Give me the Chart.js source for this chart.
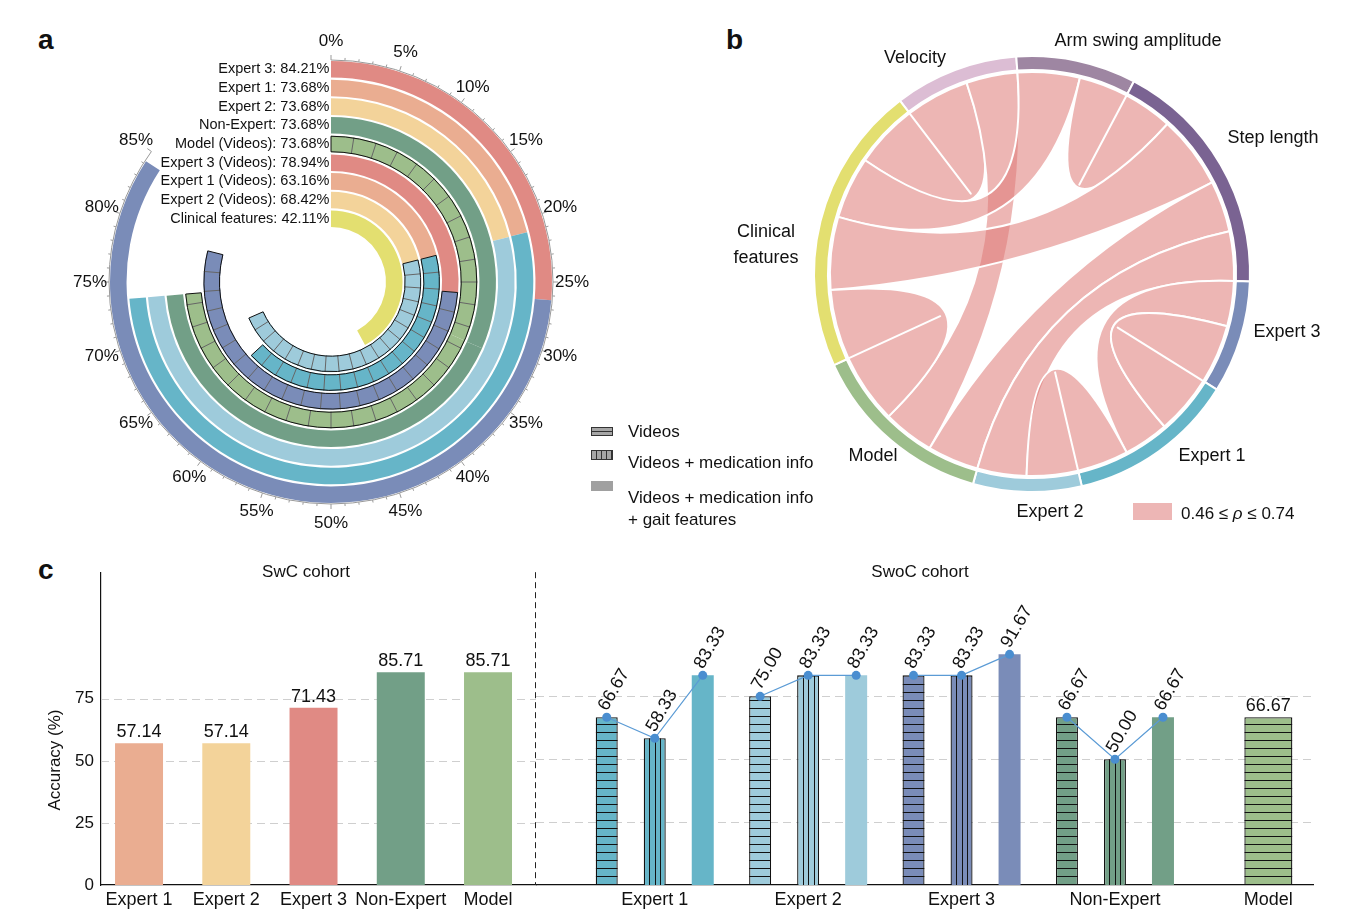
<!DOCTYPE html>
<html lang="en">
<head>
<meta charset="UTF-8">
<title>Accuracy of experts and model</title>
<script src="https://cdn.jsdelivr.net/npm/chart.js"></script>
<style>
  html, body { margin: 0; padding: 0; background: #fff; }
  body { position: relative; width: 1354px; height: 918px; overflow: hidden;
         font-family: "Liberation Sans", Arial, Helvetica, sans-serif; color: #111; }
  canvas { position: absolute; }
  .tag { position: absolute; font-size: 28px; font-weight: bold; line-height: 28px; }
  .txt { position: absolute; font-size: 17px; line-height: 20px; white-space: nowrap; z-index: 3; }
  .box { position: absolute; box-sizing: border-box; z-index: 3; }
</style>
</head>
<body>
<div class="tag" style="left:38px;top:26px">a</div>
<div class="tag" style="left:726px;top:26px">b</div>
<div class="tag" style="left:38px;top:556px">c</div>

<canvas id="chartA" width="560" height="560" style="left:51px;top:2px"></canvas>
<canvas id="chartB" width="654" height="548" style="left:700px;top:0px"></canvas>
<canvas id="chartC1" width="510" height="363" style="left:30px;top:555px"></canvas>
<canvas id="chartC2" width="818" height="363" style="left:536px;top:555px"></canvas>

<!-- legend shared by a and c -->
<div class="box" style="left:591px;top:427px;width:22px;height:9px;border:1px solid #333;
     background:linear-gradient(#a6a6a6 0 40%, #333 40% 62%, #a6a6a6 62%)"></div>
<div class="box" style="left:591px;top:450px;width:22px;height:10px;border:1px solid #333;
     background:repeating-linear-gradient(90deg, #a6a6a6 0 4px, #333 4px 5px)"></div>
<div class="box" style="left:591px;top:481px;width:22px;height:10px;background:#a0a0a0"></div>
<div class="txt" style="left:628px;top:422px">Videos</div>
<div class="txt" style="left:628px;top:453px">Videos + medication info</div>
<div class="txt" style="left:628px;top:488px">Videos + medication info</div>
<div class="txt" style="left:628px;top:510px">+ gait features</div>

<div class="txt" style="left:206px;top:562px;width:200px;text-align:center">SwC cohort</div>
<div class="txt" style="left:820px;top:562px;width:200px;text-align:center">SwoC cohort</div>
<div class="txt" style="left:-45px;top:750px;width:200px;text-align:center;transform:rotate(-90deg)">Accuracy (%)</div>

<script>
// ---- panel a: overall accuracy rings (outer to inner)
const ringLabels = ['Expert 3', 'Expert 1', 'Expert 2', 'Non-Expert', 'Model (Videos)',
                    'Expert 3 (Videos)', 'Expert 1 (Videos)', 'Expert 2 (Videos)', 'Clinical features'];
const ringAccuracy = [84.21, 73.68, 73.68, 73.68, 73.68, 78.94, 63.16, 68.42, 42.11];
// share of the ring coming from the SwC cohort (first coloured segment)
const ringSwcShare = [26.32, 21.05, 21.05, 31.58, 31.58, 26.32, 21.05, 21.05, 42.11];
const axisTicksA = [0, 5, 10, 15, 20, 25, 30, 35, 40, 45, 50, 55, 60, 65, 70, 75, 80, 85];

// ---- panel b: correlation chord diagram
const chordGroups = ['Velocity', 'Arm swing amplitude', 'Step length', 'Expert 3',
                     'Expert 1', 'Expert 2', 'Model', 'Clinical features'];
const linkFrom = ['Clinical features', 'Velocity', 'Arm swing amplitude', 'Arm swing amplitude',
                  'Step length', 'Step length', 'Step length', 'Expert 3', 'Expert 3', 'Expert 1', 'Model'];
const linkTo = ['Velocity', 'Model', 'Clinical features', 'Step length',
                'Clinical features', 'Model', 'Expert 2', 'Expert 1', 'Expert 1', 'Expert 2', 'Clinical features'];
const linkRho = [0.65, 0.52, 0.63, 0.50, 0.74, 0.52, 0.50, 0.46, 0.60, 0.52, 0.71];

// ---- panel c: accuracy per cohort
const swcLabels = ['Expert 1', 'Expert 2', 'Expert 3', 'Non-Expert', 'Model'];
const swcAccuracy = [57.14, 57.14, 71.43, 85.71, 85.71];
const swocLabels = ['Expert 1', 'Expert 2', 'Expert 3', 'Non-Expert', 'Model'];
const swocVideos = [66.67, 75.00, 83.33, 66.67, 66.67];
const swocVideosMed = [58.33, 83.33, 83.33, 50.00, null];
const swocVideosMedGait = [83.33, 83.33, 91.67, 66.67, null];
const yTicksC = [0, 25, 50, 75];

// ---- styles
const RED = '#e08a84', SALMON = '#eaad91', ORANGE = '#f3d39a', DKGREEN = '#729f87', LTGREEN = '#9dbe8b',
      PURPLE = '#7a8cb8', TEAL = '#66b5c8', LTBLUE = '#9ecbdb', YELLOW = '#e3df70';
const ringStyle = [
  { c1: RED, c2: PURPLE }, { c1: SALMON, c2: TEAL }, { c1: ORANGE, c2: LTBLUE },
  { c1: DKGREEN, c2: DKGREEN }, { c1: LTGREEN, c2: LTGREEN, cells: 'all' },
  { c1: RED, c2: PURPLE, cells: 'swoc' }, { c1: SALMON, c2: TEAL, cells: 'swoc' },
  { c1: ORANGE, c2: LTBLUE, cells: 'swoc' }, { c1: YELLOW, c2: YELLOW }
];
const groupColors = ['#dcbdd4', '#9e86a2', '#7a6392', PURPLE, TEAL, LTBLUE, LTGREEN, YELLOW];
const chordLabelPlace = {
  'Velocity': { dx: -117, dy: -216, lines: ['Velocity'] },
  'Arm swing amplitude': { dx: 106, dy: -233, lines: ['Arm swing amplitude'] },
  'Step length': { dx: 241, dy: -136, lines: ['Step length'] },
  'Expert 3': { dx: 255, dy: 58, lines: ['Expert 3'] },
  'Expert 1': { dx: 180, dy: 182, lines: ['Expert 1'] },
  'Expert 2': { dx: 18, dy: 238, lines: ['Expert 2'] },
  'Model': { dx: -159, dy: 182, lines: ['Model'] },
  'Clinical features': { dx: -266, dy: -29, lines: ['Clinical', 'features'] }
};
const swcColors = [SALMON, ORANGE, RED, DKGREEN, LTGREEN];
const swocColors = [TEAL, LTBLUE, PURPLE, DKGREEN, LTGREEN];
const FONT = '"Liberation Sans", Arial, Helvetica, sans-serif';
const cellStep = Math.PI * 2 / 40;

Chart.defaults.font.family = FONT;
Chart.defaults.color = '#111';
Chart.defaults.animation = false;

// ================= panel a =================
const ringDatasets = [];
ringLabels.forEach((name, i) => {
  if (i > 0) {
    ringDatasets.push({ data: [100], backgroundColor: ['rgba(0,0,0,0)'], borderWidth: 0, weight: 0.13, spacer: true });
  }
  const swc = Math.min(ringSwcShare[i], ringAccuracy[i]);
  ringDatasets.push({
    label: name,
    ring: i,
    data: [swc, ringAccuracy[i] - swc, 100 - ringAccuracy[i]],
    backgroundColor: [ringStyle[i].c1, ringStyle[i].c2, 'rgba(0,0,0,0)'],
    borderWidth: 0,
    weight: 1
  });
});

const ringDecor = {
  id: 'ringDecor',
  afterDatasetsDraw(chart) {
    const ctx = chart.ctx;
    ctx.save();
    chart.data.datasets.forEach((ds, di) => {
      if (ds.spacer) return;
      const arcs = chart.getDatasetMeta(di).data;
      const { x, y, innerRadius: ri, outerRadius: ro } = arcs[0];
      const st = ringStyle[ds.ring];
      if (st.cells) {
        const a0 = st.cells === 'all' ? arcs[0].startAngle : arcs[1].startAngle;
        const a1 = arcs[1].endAngle;
        ctx.strokeStyle = '#666';
        ctx.lineWidth = 1;
        ctx.beginPath();
        for (let a = a0 + cellStep; a < a1 - 0.02; a += cellStep) {
          ctx.moveTo(x + ri * Math.cos(a), y + ri * Math.sin(a));
          ctx.lineTo(x + ro * Math.cos(a), y + ro * Math.sin(a));
        }
        ctx.stroke();
        ctx.strokeStyle = '#111';
        ctx.beginPath();
        ctx.arc(x, y, ro - 0.5, a0, a1);
        ctx.arc(x, y, ri + 0.5, a1, a0, true);
        ctx.closePath();
        ctx.stroke();
      }
      ctx.fillStyle = '#111';
      ctx.font = '14.5px ' + FONT;
      ctx.textAlign = 'right';
      ctx.textBaseline = 'middle';
      ctx.fillText(`${ringLabels[ds.ring]}: ${ringAccuracy[ds.ring].toFixed(2)}%`, x - 1.5, y - (ri + ro) / 2);
    });

    // percentage axis around the outer ring
    const outer = chart.getDatasetMeta(0).data[0];
    const cx = outer.x, cy = outer.y, R = outer.outerRadius + 1;
    const maxTick = axisTicksA[axisTicksA.length - 1];
    const ang = p => -Math.PI / 2 + Math.PI * 2 * p / 100;
    ctx.strokeStyle = '#999';
    ctx.lineWidth = 1;
    ctx.beginPath();
    ctx.arc(cx, cy, R, ang(0), ang(maxTick));
    for (let p = 0; p <= maxTick; p++) {
      const len = p % 5 === 0 ? 5 : 2.5;
      const a = ang(p);
      ctx.moveTo(cx + R * Math.cos(a), cy + R * Math.sin(a));
      ctx.lineTo(cx + (R + len) * Math.cos(a), cy + (R + len) * Math.sin(a));
    }
    ctx.stroke();
    ctx.fillStyle = '#111';
    ctx.font = '17px ' + FONT;
    ctx.textAlign = 'center';
    ctx.textBaseline = 'middle';
    axisTicksA.forEach(v => {
      const a = ang(v);
      ctx.fillText(v + '%', cx + (R + 19) * Math.cos(a), cy + (R + 19) * Math.sin(a));
    });
    ctx.restore();
  }
};

new Chart(document.getElementById('chartA'), {
  type: 'doughnut',
  data: { datasets: ringDatasets },
  options: {
    responsive: false,
    events: [],
    cutout: 55,
    layout: { padding: 59 },
    plugins: { legend: { display: false }, tooltip: { enabled: false } }
  },
  plugins: [ringDecor]
});

// ================= panel b =================
const groupTotals = chordGroups.map(g =>
  linkRho.reduce((s, r, k) => s + ((linkFrom[k] === g ? 1 : 0) + (linkTo[k] === g ? 1 : 0)) * r, 0));

const chordDecor = {
  id: 'chordDecor',
  afterDatasetsDraw(chart) {
    const ctx = chart.ctx;
    const meta = chart.getDatasetMeta(0);
    const n = chordGroups.length;
    const ends = chordGroups.map(() => []);
    linkRho.forEach((rho, k) => {
      const a = chordGroups.indexOf(linkFrom[k]), b = chordGroups.indexOf(linkTo[k]);
      ends[a].push({ k, partner: b, rho });
      ends[b].push({ k, partner: a, rho });
    });
    const pos = {};
    ends.forEach((list, g) => {
      list.sort((p, q) => {
        const dp = (p.partner - g + n) % n, dq = (q.partner - g + n) % n;
        if (dp !== dq) return dq - dp;
        return g < p.partner ? p.k - q.k : q.k - p.k;
      });
      const arc = meta.data[g];
      const span = arc.endAngle - arc.startAngle;
      let a = arc.startAngle;
      list.forEach(e => {
        const w = span * e.rho / groupTotals[g];
        (pos[e.k] = pos[e.k] || []).push([a, a + w]);
        a += w;
      });
    });
    const first = meta.data[0];
    const cx = first.x, cy = first.y, r = first.innerRadius - 2;
    const pt = a => [cx + r * Math.cos(a), cy + r * Math.sin(a)];
    ctx.save();
    ctx.fillStyle = 'rgba(223,124,122,0.56)';
    ctx.strokeStyle = '#fff';
    ctx.lineWidth = 2;
    ctx.lineJoin = 'round';
    linkRho.forEach((rho, k) => {
      const [[a1, a2], [b1, b2]] = pos[k];
      const p0 = pt(a1), q0 = pt(b1);
      ctx.beginPath();
      ctx.moveTo(p0[0], p0[1]);
      ctx.arc(cx, cy, r, a1, a2);
      ctx.quadraticCurveTo(cx, cy, q0[0], q0[1]);
      ctx.arc(cx, cy, r, b1, b2);
      ctx.quadraticCurveTo(cx, cy, p0[0], p0[1]);
      ctx.closePath();
      ctx.fill();
      ctx.stroke();
    });

    // group labels
    ctx.fillStyle = '#111';
    ctx.font = '18px ' + FONT;
    ctx.textAlign = 'center';
    ctx.textBaseline = 'middle';
    chordGroups.forEach(g => {
      const pl = chordLabelPlace[g];
      pl.lines.forEach((line, li) => {
        ctx.fillText(line, cx + pl.dx, cy + pl.dy + (li - (pl.lines.length - 1) / 2) * 26);
      });
    });

    // legend
    ctx.fillStyle = '#edb6b5';
    ctx.fillRect(cx + 101, cy + 229, 39, 17);
    ctx.fillStyle = '#111';
    ctx.textAlign = 'left';
    ctx.font = '17px ' + FONT;
    let tx = cx + 149;
    const ty = cy + 240;
    const minRho = Math.min(...linkRho).toFixed(2), maxRho = Math.max(...linkRho).toFixed(2);
    ctx.fillText(minRho + ' \u2264 ', tx, ty);
    tx += ctx.measureText(minRho + ' \u2264 ').width;
    ctx.font = 'italic 17px ' + FONT;
    ctx.fillText('\u03C1', tx, ty);
    tx += ctx.measureText('\u03C1').width;
    ctx.font = '17px ' + FONT;
    ctx.fillText(' \u2264 ' + maxRho, tx, ty);
    ctx.restore();
  }
};

new Chart(document.getElementById('chartB'), {
  type: 'doughnut',
  data: {
    labels: chordGroups,
    datasets: [{ data: groupTotals, backgroundColor: groupColors, borderColor: '#fff', borderWidth: 2, hoverOffset: 0 }]
  },
  options: {
    responsive: false,
    events: [],
    rotation: 322.7,
    cutout: '93.6%',
    layout: { padding: { left: 113, right: 103, top: 55, bottom: 55 } },
    plugins: { legend: { display: false }, tooltip: { enabled: false } }
  },
  plugins: [chordDecor]
});

// ================= panel c =================
function makeBarDecor(opts) {
  return {
    id: 'barDecor',
    beforeDatasetsDraw(chart) {
      const { ctx, chartArea: ca, scales: { y } } = chart;
      ctx.save();
      ctx.strokeStyle = '#cfcfcf';
      ctx.lineWidth = 1;
      ctx.setLineDash([8, 5]);
      yTicksC.filter(v => v > 0).forEach(v => {
        const py = Math.round(y.getPixelForValue(v)) + 0.5;
        ctx.beginPath();
        ctx.moveTo(ca.left, py);
        ctx.lineTo(ca.right, py);
        ctx.stroke();
      });
      ctx.restore();
    },
    afterDatasetsDraw(chart) {
      const { ctx, chartArea: ca } = chart;
      ctx.save();
      // hatching
      chart.data.datasets.forEach((ds, di) => {
        if (!ds.hatch) return;
        chart.getDatasetMeta(di).data.forEach((el, i) => {
          if (ds.data[i].y == null) return;
          const { x, y, base, width } = el;
          const l = x - width / 2, r = x + width / 2;
          ctx.save();
          ctx.beginPath();
          ctx.rect(l, y, width, base - y);
          ctx.clip();
          ctx.strokeStyle = '#111';
          ctx.lineWidth = 1;
          ctx.beginPath();
          if (ds.hatch === 'h') {
            for (let py = base - 1; py > y + 2; py -= 8) {
              ctx.moveTo(l, Math.round(py) + 0.5);
              ctx.lineTo(r, Math.round(py) + 0.5);
            }
          } else {
            for (let q = 1; q < 4; q++) {
              const px = Math.round(l + width * q / 4) + 0.5;
              ctx.moveTo(px, y);
              ctx.lineTo(px, base);
            }
          }
          ctx.stroke();
          ctx.restore();
        });
      });

      const sets = chart.data.datasets.map((ds, di) => ({ ds, meta: chart.getDatasetMeta(di) }));
      const count = chart.data.datasets[0].data.length;
      // connecting dots over grouped bars
      if (opts.dots) {
        for (let i = 0; i < count; i++) {
          const pts = sets.filter(s => s.ds.data[i].y != null).map(s => s.meta.data[i]);
          if (pts.length < 2) continue;
          ctx.strokeStyle = '#5b9bd5';
          ctx.lineWidth = 1.2;
          ctx.beginPath();
          pts.forEach((el, j) => j ? ctx.lineTo(el.x, el.y) : ctx.moveTo(el.x, el.y));
          ctx.stroke();
          ctx.fillStyle = '#4a8ed0';
          pts.forEach(el => { ctx.beginPath(); ctx.arc(el.x, el.y, 4.5, 0, Math.PI * 2); ctx.fill(); });
        }
      }
      // value labels
      ctx.fillStyle = '#111';
      ctx.font = '18px ' + FONT;
      for (let i = 0; i < count; i++) {
        const present = sets.filter(s => s.ds.data[i].y != null);
        present.forEach(s => {
          const el = s.meta.data[i];
          const v = s.ds.data[i].y.toFixed(2);
          if (present.length > 1) {
            ctx.save();
            ctx.translate(el.x - 4, el.y - 8);
            ctx.rotate(-Math.PI / 3);
            ctx.textAlign = 'left';
            ctx.textBaseline = 'middle';
            ctx.fillText(v, 0, 0);
            ctx.restore();
          } else {
            ctx.textAlign = 'center';
            ctx.textBaseline = 'bottom';
            ctx.fillText(v, el.x, el.y - 2);
          }
        });
      }
      // cohort separator
      if (opts.separator) {
        ctx.strokeStyle = '#222';
        ctx.lineWidth = 1;
        ctx.setLineDash([6, 4]);
        ctx.beginPath();
        ctx.moveTo(ca.right - 0.5, ca.top);
        ctx.lineTo(ca.right - 0.5, ca.bottom);
        ctx.stroke();
      }
      ctx.restore();
    }
  };
}

function xScale(labels, min, max) {
  return {
    type: 'linear', min, max, offset: false,
    grid: { display: false, drawTicks: false, offset: false },
    border: { display: true, color: '#111', width: 1.2 },
    afterBuildTicks: s => { s.ticks = labels.map((_, i) => ({ value: i })); },
    afterFit: s => { s.height = 33; },
    ticks: { autoSkip: false, maxRotation: 0, minRotation: 0, padding: 4, font: { size: 18 },
             callback: (v, i) => labels[i] }
  };
}
const yScaleC = show => ({
  display: show,
  min: 0, max: 126,
  grid: { display: false, drawTicks: false },
  border: { display: show, color: '#111', width: 1.2 },
  afterBuildTicks: s => { s.ticks = yTicksC.map(v => ({ value: v })); },
  afterFit: s => { s.width = show ? 71 : 0; },
  ticks: { padding: 7, font: { size: 17 } }
});

new Chart(document.getElementById('chartC1'), {
  type: 'bar',
  data: {
    datasets: [{
      label: 'SwC cohort',
      data: swcAccuracy.map((v, i) => ({ x: i, y: v })),
      backgroundColor: swcColors,
      borderWidth: 0,
      barPercentage: 0.55,
      categoryPercentage: 1
    }]
  },
  options: {
    responsive: false,
    events: [],
    layout: { padding: { top: 13, right: 4, left: 0, bottom: 0 } },
    plugins: { legend: { display: false }, tooltip: { enabled: false } },
    scales: { x: xScale(swcLabels, -0.436, 4.55), y: yScaleC(true) }
  },
  plugins: [makeBarDecor({ separator: true })]
});

new Chart(document.getElementById('chartC2'), {
  type: 'bar',
  data: {
    datasets: [
      { label: 'Videos', data: swocVideos.map((v, i) => ({ x: i, y: v })),
        backgroundColor: swocColors, borderColor: '#111', borderWidth: 1.3, hatch: 'h', maxBarThickness: 48 },
      { label: 'Videos + medication info', data: swocVideosMed.map((v, i) => ({ x: i, y: v })),
        backgroundColor: swocColors, borderColor: '#111', borderWidth: 1.3, hatch: 'v' },
      { label: 'Videos + medication info + gait features', data: swocVideosMedGait.map((v, i) => ({ x: i, y: v })),
        backgroundColor: swocColors, borderWidth: 0 }
    ]
  },
  options: {
    responsive: false,
    events: [],
    datasets: { bar: { barPercentage: 0.458, categoryPercentage: 0.939, skipNull: true } },
    layout: { padding: { top: 13, right: 41, left: 0, bottom: 0 } },
    plugins: { legend: { display: false }, tooltip: { enabled: false } },
    scales: { x: xScale(swocLabels, -0.774, 4.291), y: yScaleC(false) }
  },
  plugins: [makeBarDecor({ dots: true })]
});
</script>
</body>
</html>
